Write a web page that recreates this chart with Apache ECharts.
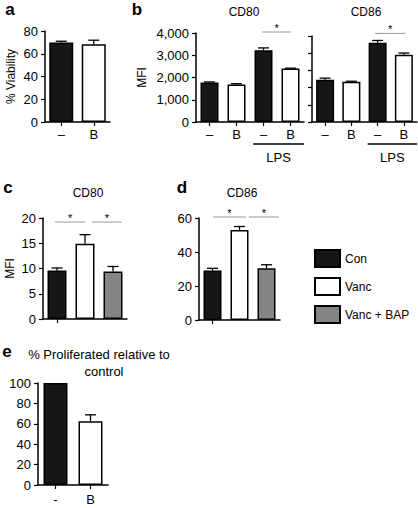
<!DOCTYPE html>
<html><head><meta charset="utf-8">
<script src="https://cdn.jsdelivr.net/npm/echarts@6/dist/echarts.min.js"></script>
<style>html,body{margin:0;padding:0;background:#fff}#c{width:418px;height:508px}</style>
</head><body><div id="c"></div>
<script>
// ---------- data ----------
const aCats = ['–', 'B'];
const aMean = [69.8, 68.3];
const aErr  = [1.2, 3.6];

const bCats   = ['–', 'B', '–', 'B'];
const cd80Mean = [1780, 1680, 3220, 2400];
const cd80Err  = [20, 40, 110, 20];
const cd86Mean = [2460, 2340, 4610, 3910];
const cd86Err  = [90, 30, 130, 100];

const groups = ['Con', 'Vanc', 'Vanc + BAP'];
const cMean = [9.6, 14.9, 9.4];
const cErr  = [0.5, 1.8, 1.0];
const dMean = [29.1, 53.0, 30.5];
const dErr  = [1.3, 2.0, 2.0];

const eCats = ['-', 'B'];
const eMean = [100, 62.5];
const eErr  = [0, 6.3];

// significance brackets: [from, to] in category units, plus level in data units
const cSig = [[-0.07, 1.0], [1.25, 2.32]]; const cSigY = 19.2;
const dSig = [[0.02, 1.24], [1.35, 2.46]]; const dSigY = 60.6;
const b80Sig = [[1.95, 3.02]]; const b80SigY = 4045;
const b86Sig = [[1.9, 3.06]]; const b86SigY = 5150;
const lpsSpan = [1.62, 3.5];

// ---------- styles ----------
const FONT = '"Liberation Sans", Arial, Helvetica, sans-serif';
const BLACK = {color: '#161616', borderColor: '#000', borderWidth: 1.5};
const WHITE = {color: '#ffffff', borderColor: '#000', borderWidth: 1.5};
const GRAY  = {color: '#858585', borderColor: '#000', borderWidth: 1.5};
const groupStyle = [BLACK, WHITE, GRAY];

function xAx(gi, cats, showLabel, margin) {
  return {type: 'category', gridIndex: gi, data: cats,
    axisLine: {lineStyle: {color: '#000', width: 1.5}},
    axisTick: {show: true, alignWithLabel: true, length: 4, lineStyle: {color: '#000', width: 1.2}},
    axisLabel: {show: showLabel, color: '#000', fontSize: 13, fontFamily: FONT, margin: margin || 6}};
}
function yAx(gi, max, interval, extra) {
  return Object.assign({type: 'value', gridIndex: gi, min: 0, max: max, interval: interval,
    axisLine: {show: true, lineStyle: {color: '#000', width: 1.5}},
    axisTick: {show: true, length: 4, lineStyle: {color: '#000', width: 1.2}},
    axisLabel: {color: '#000', fontSize: 13, fontFamily: FONT, margin: 7},
    splitLine: {show: false},
    nameLocation: 'middle',
    nameTextStyle: {color: '#000', fontSize: 12, fontFamily: FONT}}, extra || {});
}
function errSeries(gi, means, errs) {
  return {type: 'custom', xAxisIndex: gi, yAxisIndex: gi, z: 5, clip: false, silent: true,
    data: means.map((m, i) => [i, m, errs[i]]),
    renderItem(params, api) {
      const i = api.value(0), m = api.value(1), e = api.value(2);
      if (!e) return null;
      const p0 = api.coord([i, m]), p1 = api.coord([i, m + e]);
      const hw = 5.5;
      return {type: 'group', children: [
        {type: 'line', shape: {x1: p0[0], y1: p0[1], x2: p1[0], y2: p1[1]}, style: {stroke: '#000', lineWidth: 1.3}},
        {type: 'line', shape: {x1: p1[0] - hw, y1: p1[1], x2: p1[0] + hw, y2: p1[1]}, style: {stroke: '#000', lineWidth: 1.3}}
      ]};
    }};
}
function sigSeries(gi, spans, level) {
  return {type: 'custom', xAxisIndex: gi, yAxisIndex: gi, z: 6, clip: false, silent: true,
    encode: {x: 0, y: 1},
    data: spans.map(s => [0, level, s[0], s[1]]),
    renderItem(params, api) {
      const c0 = api.coord([0, api.value(1)]);
      const band = api.size([1, 0])[0];
      const x1 = c0[0] + api.value(2) * band, x2 = c0[0] + api.value(3) * band, y = c0[1];
      return {type: 'group', children: [
        {type: 'line', shape: {x1: x1, y1: y, x2: x2, y2: y}, style: {stroke: '#999', lineWidth: 1}},
        {type: 'text', style: {text: '*', x: (x1 + x2) / 2, y: y - 4, align: 'center', verticalAlign: 'middle', font: '11px ' + FONT, fill: '#000'}}
      ]};
    }};
}
function lpsSeries(gi) {
  return {type: 'custom', xAxisIndex: gi, yAxisIndex: gi, z: 6, clip: false, silent: true,
    encode: {x: 0, y: 1},
    data: [[0, 0, lpsSpan[0], lpsSpan[1]]],
    renderItem(params, api) {
      const c0 = api.coord([0, 0]);
      const band = api.size([1, 0])[0];
      const x1 = c0[0] + api.value(2) * band, x2 = c0[0] + api.value(3) * band;
      const y = c0[1] + 22;
      return {type: 'group', children: [
        {type: 'line', shape: {x1: x1, y1: y, x2: x2, y2: y}, style: {stroke: '#000', lineWidth: 1.3}},
        {type: 'text', style: {text: 'LPS', x: (x1 + x2) / 2, y: y + 13, align: 'center', verticalAlign: 'middle', font: '13px ' + FONT, fill: '#000'}}
      ]};
    }};
}
function twoToneBars(gi, cats, means, width) {
  return {type: 'bar', xAxisIndex: gi, yAxisIndex: gi, barWidth: width, silent: true,
    data: means.map((v, i) => ({value: v, itemStyle: cats[i] === 'B' ? WHITE : BLACK}))};
}
function groupBars(gi, means, width) {
  return groups.map((g, k) => ({type: 'bar', name: g, xAxisIndex: gi, yAxisIndex: gi,
    barWidth: width, barGap: '-100%', silent: true, itemStyle: groupStyle[k],
    data: means.map((v, i) => i === k ? v : '-')}));
}
function txt(t, x, y, size, bold, align) {
  return {type: 'text', x: x, y: y, silent: true,
    style: {text: t, align: align || 'center', verticalAlign: 'middle',
      font: (bold ? 'bold ' : '') + size + 'px ' + FONT, fill: '#000'}};
}

const chart = echarts.init(document.getElementById('c'), null, {renderer: 'svg'});
chart.setOption({
  animation: false,
  backgroundColor: '#fff',
  grid: [
    {left: 45, top: 31, width: 65, height: 91},
    {left: 196, top: 33, width: 108, height: 89},
    {left: 312, top: 36, width: 105, height: 86},
    {left: 43, top: 218, width: 84, height: 101},
    {left: 199, top: 218, width: 81, height: 102},
    {left: 38, top: 383, width: 70, height: 102}
  ],
  xAxis: [
    xAx(0, aCats, true, 6),
    xAx(1, bCats, true, 6),
    xAx(2, bCats, true, 6),
    xAx(3, groups, false),
    xAx(4, groups, false),
    xAx(5, eCats, true, 8)
  ],
  yAxis: [
    yAx(0, 80, 20, {name: '% Viability', nameGap: 28}),
    yAx(1, 4000, 1000, {name: 'MFI', nameGap: 48, axisLabel: {color: '#000', fontSize: 13, fontFamily: FONT, margin: 7, formatter: v => v.toLocaleString('en-US')}}),
    yAx(2, 5000, 1000, {axisLabel: {show: false}}),
    yAx(3, 20, 5, {name: 'MFI', nameGap: 27}),
    yAx(4, 60, 20),
    yAx(5, 100, 20)
  ],
  legend: {
    orient: 'vertical', left: 309, top: 244, itemWidth: 25, itemHeight: 17, itemGap: 9,
    icon: 'rect', selectedMode: false,
    textStyle: {color: '#000', fontSize: 12, fontFamily: FONT},
    data: groups.map((g, k) => ({name: g, itemStyle: Object.assign({}, groupStyle[k], {borderWidth: 2})}))
  },
  graphic: [
    txt('a', 10, 9, 17, true),
    txt('b', 137, 9, 17, true),
    txt('CD80', 244, 12, 12),
    txt('CD86', 366, 12, 12),
    txt('c', 8, 187, 17, true),
    txt('CD80', 88, 193, 12),
    txt('d', 182, 187, 17, true),
    txt('CD86', 242, 193, 12),
    txt('e', 7, 351, 17, true),
    txt('% Proliferated relative to', 99, 354, 13),
    txt('control', 104, 371, 13)
  ],
  series: [
    twoToneBars(0, aCats, aMean, 24), errSeries(0, aMean, aErr),
    twoToneBars(1, bCats, cd80Mean, 18), errSeries(1, cd80Mean, cd80Err),
    sigSeries(1, b80Sig, b80SigY), lpsSeries(1),
    twoToneBars(2, bCats, cd86Mean, 18), errSeries(2, cd86Mean, cd86Err),
    sigSeries(2, b86Sig, b86SigY), lpsSeries(2),
    ...groupBars(3, cMean, 19), errSeries(3, cMean, cErr), sigSeries(3, cSig, cSigY),
    ...groupBars(4, dMean, 18), errSeries(4, dMean, dErr), sigSeries(4, dSig, dSigY),
    twoToneBars(5, eCats, eMean, 24), errSeries(5, eMean, eErr)
  ]
});
</script>
</body></html>
